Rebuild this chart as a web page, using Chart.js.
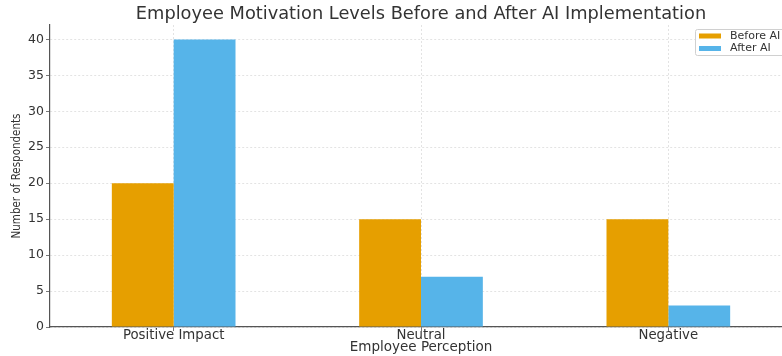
<!DOCTYPE html>
<html>
<head>
<meta charset="utf-8">
<script src="https://cdn.jsdelivr.net/npm/chart.js@4/dist/chart.umd.min.js"></script>
<style>
  html, body { margin: 0; padding: 0; background: #fff; overflow: hidden; }
  #wrap { width: 800px; height: 356px; }
</style>
</head>
<body>
<div id="wrap"><canvas id="chart" width="800" height="356"></canvas></div>
<script>
// Survey responses by perception category
const categories = ['Positive Impact', 'Neutral', 'Negative'];
const beforeAI = [20, 15, 15];
const afterAI = [40, 7, 3];
const seriesNames = ['Before AI', 'After AI'];
const yTicks = [0, 5, 10, 15, 20, 25, 30, 35, 40];
const chartTitle = 'Employee Motivation Levels Before and After AI Implementation';

const FONT = "'DejaVu Sans', sans-serif";
const ORANGE = '#E69F00';
const BLUE = '#56B4E9';

// Title centred over the plot area rather than the whole canvas
const plotTitle = {
  id: 'plotTitle',
  afterDraw(chart) {
    const ctx = chart.ctx;
    const a = chart.chartArea;
    ctx.save();
    ctx.font = '17.8px ' + FONT;
    ctx.fillStyle = '#333';
    ctx.textAlign = 'center';
    ctx.textBaseline = 'middle';
    ctx.fillText(chartTitle, (a.left + a.right) / 2, 14);
    ctx.restore();
  }
};

// Legend box drawn inside the plot area, upper right
const innerLegend = {
  id: 'innerLegend',
  afterDraw(chart) {
    const ctx = chart.ctx;
    const x = 695, y = 29, w = 100, h = 26;
    ctx.save();
    ctx.fillStyle = 'rgba(255,255,255,0.9)';
    ctx.strokeStyle = '#d0d0d0';
    ctx.lineWidth = 1;
    ctx.beginPath();
    ctx.roundRect(x + 0.5, y + 0.5, w, h, 2);
    ctx.fill();
    ctx.stroke();
    ctx.font = '11px ' + FONT;
    ctx.textBaseline = 'middle';
    chart.data.datasets.forEach((ds, i) => {
      const ry = y + 7 + i * 12.5;
      ctx.fillStyle = ds.backgroundColor;
      ctx.fillRect(x + 4, ry - 2.5, 22, 5);
      ctx.fillStyle = '#333';
      ctx.fillText(ds.label, x + 35, ry);
    });
    ctx.restore();
  }
};

new Chart(document.getElementById('chart'), {
  type: 'bar',
  data: {
    labels: categories,
    datasets: [
      { label: seriesNames[0], data: beforeAI, backgroundColor: ORANGE },
      { label: seriesNames[1], data: afterAI, backgroundColor: BLUE }
    ]
  },
  options: {
    responsive: false,
    animation: false,
    layout: { padding: { left: 0, right: 8, top: 25, bottom: 0 } },
    datasets: { bar: { categoryPercentage: 0.5, barPercentage: 1.0 } },
    plugins: {
      legend: { display: false },
      tooltip: { enabled: false },
      title: { display: false }
    },
    scales: {
      x: {
        offset: true,
        grid: {
          offset: false,
          color: '#dcdcdc',
          lineWidth: 0.8,
          tickColor: '#555',
          tickLength: 4,
          drawOnChartArea: true
        },
        border: { display: true, color: '#555', width: 1.2, dash: [2, 2] },
        ticks: { color: '#333', font: { family: FONT, size: 13.3 }, padding: -3 },
        title: {
          display: true,
          text: 'Employee Perception',
          color: '#333',
          font: { family: FONT, size: 13.5 },
          padding: { top: 0, bottom: 0 }
        },
        afterFit(scale) { scale.height = 29; }
      },
      y: {
        min: 0,
        max: 42,
        grid: {
          color: '#dcdcdc',
          lineWidth: 0.8,
          tickColor: '#555',
          tickLength: 4
        },
        border: { display: true, color: '#555', width: 1.2, dash: [2, 2] },
        ticks: { stepSize: 5, color: '#333', font: { family: FONT, size: 12.5 }, padding: 2 },
        afterBuildTicks(scale) {
          scale.ticks = yTicks.map(v => ({ value: v }));
        },
        title: {
          display: true,
          text: 'Number of Respondents',
          color: '#333',
          font: { family: "'DejaVu Sans Condensed', " + FONT, size: 11.5 },
          padding: { top: 10, bottom: 2 }
        },
        afterFit(scale) { scale.width = 50; }
      }
    }
  },
  plugins: [plotTitle, innerLegend]
});
</script>
</body>
</html>
